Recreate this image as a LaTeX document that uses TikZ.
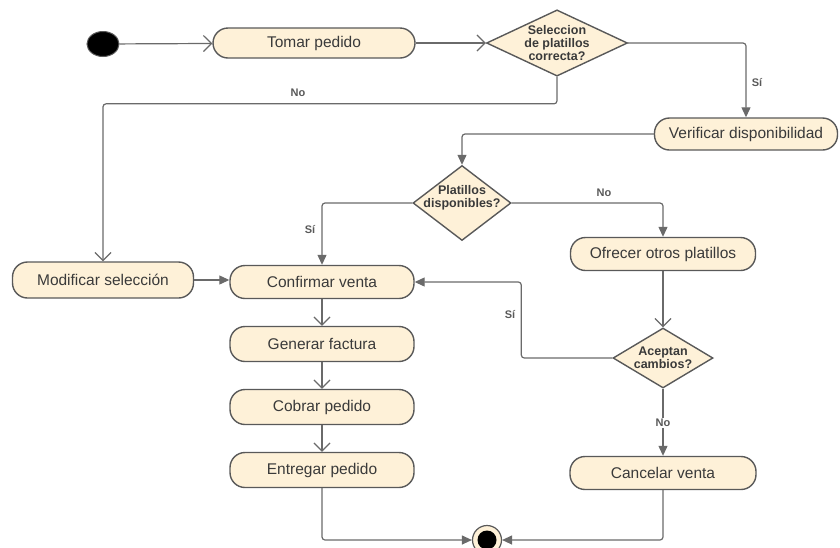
\documentclass[tikz,border=0pt]{standalone}
\usepackage{fontspec}
\setmainfont{Liberation Sans}
\usetikzlibrary{shapes.geometric,arrows.meta}
\definecolor{cream}{HTML}{FEF1D8}
\definecolor{edge}{HTML}{595959}
\definecolor{wire}{HTML}{6A6A6A}
\definecolor{ink}{HTML}{3A3A3A}
\tikzset{
  act/.style={rectangle, rounded corners=15pt, draw=edge, line width=1.4pt, fill=cream,
    text=ink, font=\fontsize{15.5}{17}\selectfont, inner sep=0pt},
  choicefont/.style={text=ink, align=center, font=\bfseries\fontsize{12.5}{13}\selectfont},
  choice/.style={diamond, draw=edge, line width=1.4pt, fill=cream, inner sep=0pt, choicefont},
  flow/.style={draw=wire, line width=1.2pt, rounded corners=3pt},
  openarr/.style={flow, -{Straight Barb[length=8pt,width=16pt,line width=1.2pt]}},
  fillarr/.style={flow, -{Triangle[length=10pt,width=9pt]}},
  lbl/.style={text=edge, font=\bfseries\fontsize{11}{12}\selectfont, inner sep=1pt}
}
\begin{document}
\begin{tikzpicture}[x=1pt,y=-1pt]
\useasboundingbox (0,0) rectangle (840,547);

% initial and final states
\node[ellipse, fill=black, draw=edge, line width=1pt, minimum width=32pt, minimum height=25pt, inner sep=0pt] (ini) at (103,44) {};
\node[circle, fill=cream, draw=edge, line width=1.2pt, minimum size=29pt, inner sep=0pt] (fin) at (487,540) {};
\node[circle, fill=black, minimum size=19pt, inner sep=0pt] (finin) at (487,540) {};

% actions
\node[act, minimum width=202pt, minimum height=30pt] (tomar) at (314,43) {Tomar pedido};
\node[act, minimum width=183pt, minimum height=32pt] (verif) at (746,134) {Verificar disponibilidad};
\node[act, minimum width=181pt, minimum height=36pt] (modif) at (103,280) {Modificar selección};
\node[act, minimum width=184pt, minimum height=33pt] (confirm) at (322,282) {Confirmar venta};
\node[act, minimum width=184pt, minimum height=35pt] (factura) at (322,344) {Generar factura};
\node[act, minimum width=184pt, minimum height=35pt] (cobrar) at (322,407) {Cobrar pedido};
\node[act, minimum width=184pt, minimum height=35pt] (entregar) at (322,470) {Entregar pedido};
\node[act, minimum width=185pt, minimum height=33pt] (ofrecer) at (663,254) {Ofrecer otros platillos};
\node[act, minimum width=186pt, minimum height=33pt] (cancel) at (663,473) {Cancelar venta};

% decisions (the middle one keeps its size and lets its text run to the edges)
\node[choice, minimum width=141pt, minimum height=66pt, aspect=2.1] (sel) at (557,43) {Seleccion\\de platillos\\correcta?};
\node[choice, minimum width=98pt, minimum height=75pt, aspect=1.3,
  label={[choicefont, inner sep=0pt, yshift=5pt]center:Platillos\\disponibles?}] (disp) at (462,203) {};
\node[choice, minimum width=100pt, minimum height=60pt, aspect=1.7] (acep) at (663,358) {Aceptan\\cambios?};

% flow
\draw[openarr] (ini) -- (tomar);
\draw[openarr] (tomar) -- (sel);
\draw[fillarr] (sel.east) -| (verif.north);
\node[lbl] (lsi1) at (757,83) {Sí};
\draw[openarr] (sel.south) -- ++(0,27) -| (modif.north);
\node[lbl] (lno1) at (298,93) {No};
\draw[fillarr] (verif.west) -| (disp.north);
\draw[fillarr] (disp.west) -| (confirm.north);
\node[lbl] (lsi2) at (310,230) {Sí};
\draw[fillarr] (disp.east) -| (ofrecer.north);
\node[lbl] (lno2) at (604,193) {No};
\draw[openarr] (ofrecer.south) -- (acep.north);
\draw[fillarr] (acep.west) -- ++(-91,0) |- (confirm.east);
\node[lbl] (lsi3) at (510,315) {Sí};
\draw[fillarr] (acep.south) -- (cancel.north);
\node[lbl, fill=white] (lno3) at (663,423) {No};
\draw[fillarr] (modif.east) -- (modif.east -| confirm.west);
\draw[openarr] (confirm) -- (factura);
\draw[openarr] (factura) -- (cobrar);
\draw[openarr] (cobrar) -- (entregar);
\draw[fillarr] (entregar.south) |- (fin.west);
\draw[fillarr] (cancel.south) |- (fin.east);
\end{tikzpicture}
\end{document}
